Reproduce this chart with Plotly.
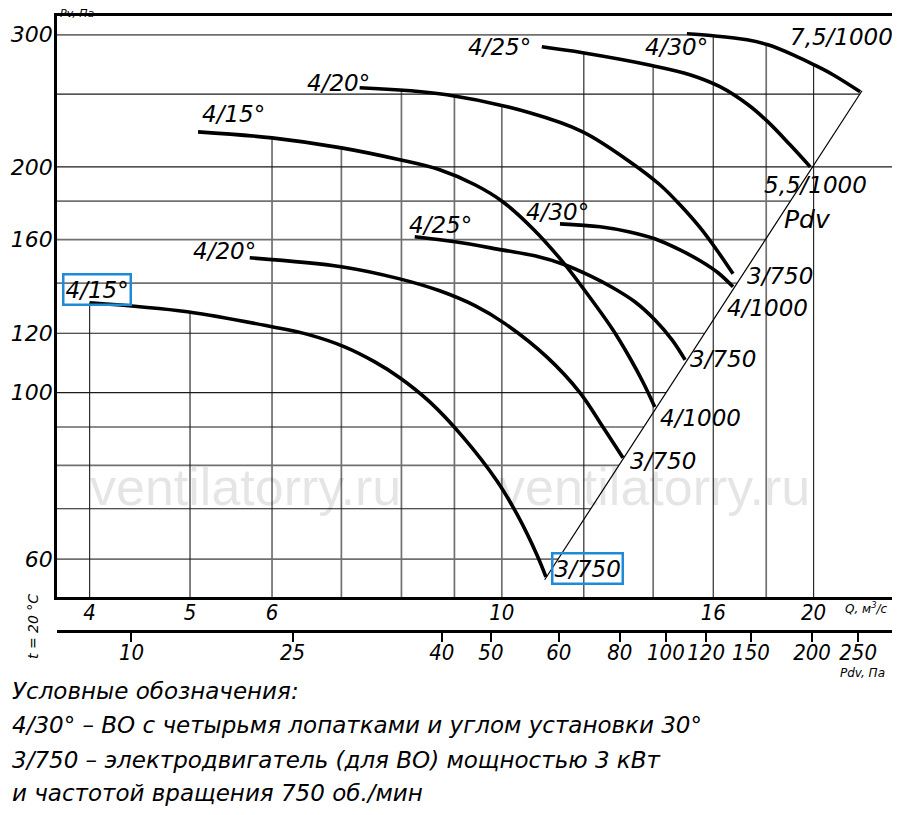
import numpy as np
import plotly.graph_objects as go

FONT = "DejaVu Sans, sans-serif"
FONT_NARROW = "DejaVu Sans Condensed, DejaVu Sans, sans-serif"

# fan curves: Q in m3/s, Pv in Pa
# upper family
q_a15 = [5.09, 6.0, 7.0, 7.97, 8.71, 9.42, 10.02, 10.72, 11.45, 11.97, 12.80, 13.29, 13.68, 14.05]
pv_a15 = [222.7, 218.6, 212.0, 204.4, 198.2, 189.3, 179.7, 165.3, 149.4, 138.0, 121.3, 111.3, 103.4, 95.7]
q_a20 = [7.29, 8.85, 10.64, 11.97, 13.29, 14.21, 14.86, 15.54, 16.17, 16.72]
pv_a20 = [255.0, 249.6, 236.1, 222.7, 203.2, 189.3, 178.0, 165.9, 154.1, 144.0]
q_a25 = [10.93, 11.97, 13.99, 15.19, 16.24, 17.29, 18.07, 18.98, 19.85]
pv_a25 = [289.1, 283.9, 272.8, 265.4, 255.8, 242.0, 229.6, 214.0, 200.0]
q_a30 = [15.09, 15.99, 17.25, 18.07, 19.11, 20.02, 20.88, 22.18]
pv_a30 = [300.9, 299.1, 295.4, 290.9, 282.1, 273.6, 265.4, 251.9]
# lower family
q_b15 = [4.00, 4.97, 6.0, 6.52, 7.05, 7.54, 7.97, 8.52, 9.17, 9.89, 10.34, 10.81, 11.03]
pv_b15 = [131.8, 128.2, 122.4, 119.4, 115.1, 109.9, 104.7, 97.2, 87.3, 76.3, 68.9, 60.8, 56.8]
q_b20 = [5.71, 7.0, 7.97, 8.71, 9.42, 10.07, 11.05, 11.90, 12.52, 13.09]
pv_b20 = [151.3, 147.2, 141.8, 136.7, 130.6, 123.6, 111.6, 99.95, 90.0, 81.9]
q_b25 = [8.24, 9.01, 10.0, 10.76, 11.50, 12.16, 12.80, 13.44, 14.05, 14.60, 15.03]
pv_b25 = [161.4, 158.9, 155.0, 152.2, 148.1, 143.2, 138.0, 132.2, 125.1, 117.6, 110.6]
q_b30 = [11.38, 12.44, 13.29, 14.05, 14.86, 15.54, 16.17, 16.72]
pv_b30 = [167.9, 166.4, 163.8, 160.4, 155.0, 149.9, 144.5, 138.4]

curve_names = ['4/15°', '4/20°', '4/25°', '4/30°', '4/15°', '4/20°', '4/25°', '4/30°']
motor_names = ['4/1000', '3/750', '5,5/1000', '7,5/1000', '3/750', '3/750', '3/750', '4/1000']

# Pdv line (dynamic pressure)
pdv_q = [11.0, 22.27]
pdv_pv = [56.3, 252.6]

q_range = [3.72, 23.86]
pv_range = [53.4, 317.8]

q_ticks = [4, 5, 6, 10, 16, 20]
pv_ticks = [60, 100, 120, 160, 200, 300]
q_grid = [4, 5, 6, 7, 8, 9, 10, 12, 14, 16, 18, 20]
pv_grid = [60, 70, 80, 90, 100, 120, 140, 160, 180, 200, 250, 300]

# second scale: Pdv, Pa, with the Q where each tick sits
pdv_ticks = ['10', '25', '40', '50', '60', '80', '100', '120', '150', '200', '250']
pdv_tick_q = [4.39, 6.28, 8.75, 9.76, 11.35, 13.0, 14.4, 15.75, 17.4, 19.93, 22.08]

curves = [
    (q_a15, pv_a15), (q_a20, pv_a20), (q_a25, pv_a25), (q_a30, pv_a30),
    (q_b15, pv_b15), (q_b20, pv_b20), (q_b25, pv_b25), (q_b30, pv_b30),
]

lg = np.log10


def pv_at(qs, pvs, q):
    return 10 ** np.interp(lg(q), lg(qs), lg(pvs))


# grid lines stop at the curves (top) and at the Pdv line (right)
dark_q = {4, 5, 12, 16, 20}
dark_pv = {70, 90, 100, 120, 200, 250}
grid = {True: ([], []), False: ([], [])}
for q in q_grid:
    top = max(pv_at(c[0], c[1], q) for c in curves if c[0][0] <= q <= c[0][-1])
    gx, gy = grid[q in dark_q]
    gx += [q, q, None]
    gy += [pv_range[0], top, None]
for pv in pv_grid:
    if pv == 200:
        end = q_range[1]
    elif pv > pdv_pv[-1]:
        end = q_a30[0]
    else:
        end = 10 ** np.interp(lg(pv), lg(pdv_pv), lg(pdv_q))
    gx, gy = grid[pv in dark_pv]
    gx += [q_range[0], end, None]
    gy += [pv, pv, None]

fig = go.Figure()
fig.add_trace(go.Scatter(x=grid[False][0], y=grid[False][1], mode='lines',
                         line=dict(color='#707070', width=1.7), hoverinfo='skip', showlegend=False))
fig.add_trace(go.Scatter(x=grid[True][0], y=grid[True][1], mode='lines',
                         line=dict(color='#1a1a1a', width=1.1), hoverinfo='skip', showlegend=False))
# x2 shares the Q scale, so the Pdv line sits on it and keeps the Pdv axis drawn
fig.add_trace(go.Scatter(x=pdv_q, y=pdv_pv, xaxis='x2', mode='lines', name='Pdv',
                         line=dict(color='black', width=1.2), showlegend=False))
for (qs, pvs), name, motor in zip(curves, curve_names, motor_names):
    fig.add_trace(go.Scatter(x=qs, y=pvs, mode='lines', name=f"{name} {motor}",
                             line=dict(color='black', width=3.6, shape='spline', smoothing=1.0),
                             showlegend=False))

# label placement: (xanchor, xshift, yshift) from the curve start / end
name_pos = [('left', 2, 18), ('right', 12, 5), ('right', -9, 0), ('right', 23, -13),
            ('center', 7, 13), ('right', 8, 7), ('left', -8, 12), ('center', -2, 12)]
motor_pos = [('left', 3, -11), ('left', 12, -2), ('left', -48, -18), ('left', -72, 55),
             ('left', 5, 8), ('left', 5, -3), ('left', 3, 1), ('left', -8, -21)]
boxed = {4}


def label(text, q, pv, pos, box=False, size=23):
    a = dict(x=lg(q), y=lg(pv), xref='x', yref='y', text=text, showarrow=False,
             xanchor=pos[0], yanchor='middle', xshift=pos[1], yshift=pos[2],
             font=dict(family=FONT, size=size, style='italic', color='black'))
    if box:
        a.update(bordercolor='#1f8ad8', borderwidth=2.5, borderpad=1)
    return a


def paper(text, x, y, size, xanchor='left', yanchor='middle', **kw):
    return dict(x=x, y=y, xref='paper', yref='paper', text=text, showarrow=False,
                xanchor=xanchor, yanchor=yanchor,
                font=dict(family=FONT, size=size, style='italic', color='black'), **kw)


notes = []
for wx in [0.2249, 0.7153]:
    notes.append(dict(x=wx, y=0.3114, xref='paper', yref='paper', text='ventilatorry.ru',
                      showarrow=False, xanchor='center', yanchor='middle',
                      font=dict(family='Liberation Sans', size=52, color='rgba(0,0,0,0.1)')))
for i, ((qs, pvs), name, motor) in enumerate(zip(curves, curve_names, motor_names)):
    notes.append(label(name, qs[0], pvs[0], name_pos[i], box=i in boxed))
    notes.append(label(motor, qs[-1], pvs[-1], motor_pos[i], box=i in boxed))

notes += [
    paper('Pdv', 0.898, 0.702, 25, xanchor='center'),
    paper('Pv, Па', 0.001, 0.991, 11, yanchor='bottom'),
    paper('Q, м<sup>3</sup>/с', 0.940, 0.1345, 12),
    paper('Pdv, Па', 0.934, 0.0395, 12),
    paper('t = 20 °C', -0.0287, 0.1067, 14, xanchor='center', textangle=-90),
    paper('Условные обозначения:', -0.0562, 0.0132, 23),
    paper('4/30° – ВО с четырьмя лопатками и углом установки 30°', -0.0562, -0.0365, 23),
    paper('3/750 – электродвигатель (для ВО) мощностью 3 кВт', -0.0562, -0.0877, 23),
    paper('и частотой вращения 750 об./мин', -0.0562, -0.136, 23),
]

x_font = dict(family=FONT_NARROW, size=22, style='italic', color='black')
y_font = dict(family=FONT, size=22, style='italic', color='black')
# the page body adds 8 px on the left and top, so the figure is 8 px smaller there
fig.update_layout(
    width=892, height=807,
    margin=dict(l=49, r=7, t=8, b=115),
    plot_bgcolor='white', paper_bgcolor='white',
    xaxis=dict(type='log', range=[lg(q_range[0]), lg(q_range[1])], showgrid=False, zeroline=False,
               tickvals=q_ticks, ticktext=[str(t) for t in q_ticks], ticks='', tickfont=x_font,
               ticklabelstandoff=-6, automargin=False,
               showline=True, linecolor='black', linewidth=2.5, mirror=True),
    xaxis2=dict(type='log', range=[lg(q_range[0]), lg(q_range[1])], overlaying='x', anchor='free',
                position=0.1009, side='bottom', showgrid=False, zeroline=False, automargin=False,
                tickvals=pdv_tick_q, ticktext=pdv_ticks, ticks='outside', ticklen=9, tickwidth=1.5,
                tickcolor='black', tickfont=x_font, ticklabelstandoff=-8,
                showline=True, linecolor='black', linewidth=2.5),
    yaxis=dict(type='log', range=[lg(pv_range[0]), lg(pv_range[1])], domain=[0.1506, 1],
               showgrid=False, zeroline=False, tickvals=pv_ticks, ticks='', tickfont=y_font,
               ticklabelstandoff=-3, automargin=False,
               showline=True, linecolor='black', linewidth=2.5, mirror=True),
    annotations=notes,
)

fig.write_html("out.html")
